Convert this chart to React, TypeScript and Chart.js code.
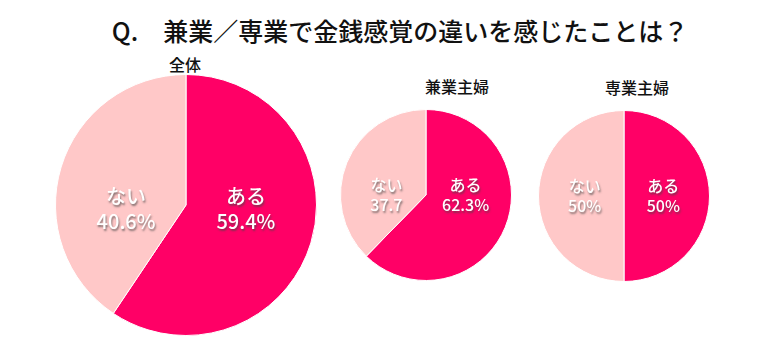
import React, { useEffect, useRef } from "react";
import { Chart, registerables } from "chart.js";

Chart.register(...registerables);

const titleText = "Q.\u3000兼業／専業で金銭感覚の違いを感じたことは？";
const categories = ["ある", "ない"];
const colors = ["#FF0066", "#FFC8C8"];

const pieTitles = ["全体", "兼業主婦", "専業主婦"];
const valuesAll = [59.4, 40.6];
const valuesSide = [62.3, 37.7];
const valuesFull = [50, 50];
const textAll = ["59.4%", "40.6%"];
const textSide = ["62.3%", "37.7"];
const textFull = ["50%", "50%"];

const FONT = "'Noto Sans CJK JP', 'Noto Sans', sans-serif";

type PieProps = {
  values: number[];
  texts: string[];
  fontSize: number;
  lineGap: number;
  labelFactor: number;
  dy: number;
  left: number;
  top: number;
  size: number;
};

const labelPlugin = {
  id: "centerLabels",
  afterDatasetsDraw(chart: any, _args: any, opts: any) {
    const ctx = chart.ctx;
    const meta = chart.getDatasetMeta(0);
    meta.data.forEach((arc: any, i: number) => {
      const { x, y, startAngle, endAngle, outerRadius } = arc.getProps(
        ["x", "y", "startAngle", "endAngle", "outerRadius"],
        true
      );
      const mid = (startAngle + endAngle) / 2;
      const lx = x + Math.cos(mid) * outerRadius * opts.factor;
      const ly = y + opts.dy;
      ctx.save();
      ctx.font = `500 ${opts.fontSize}px ${FONT}`;
      ctx.textAlign = "center";
      ctx.textBaseline = "middle";
      ctx.fillStyle = "#ffffff";
      ctx.shadowColor = "rgba(70,70,70,0.65)";
      ctx.shadowOffsetX = 1;
      ctx.shadowOffsetY = 1.5;
      ctx.shadowBlur = 2;
      ctx.fillText(categories[i], lx, ly - opts.lineGap / 2);
      ctx.fillText(opts.texts[i], lx, ly + opts.lineGap / 2);
      ctx.restore();
    });
  },
};

function Pie(props: PieProps) {
  const ref = useRef<HTMLCanvasElement | null>(null);
  useEffect(() => {
    if (!ref.current) return;
    const chart = new Chart(ref.current, {
      type: "pie",
      data: {
        labels: categories,
        datasets: [
          {
            data: props.values,
            backgroundColor: colors,
            borderColor: "#ffffff",
            borderWidth: 1,
          },
        ],
      },
      options: {
        responsive: false,
        animation: false,
        layout: { padding: 0 },
        plugins: {
          legend: { display: false },
          tooltip: { enabled: false },
          centerLabels: {
            texts: props.texts,
            fontSize: props.fontSize,
            lineGap: props.lineGap,
            factor: props.labelFactor,
            dy: props.dy,
          },
        } as any,
      },
      plugins: [labelPlugin],
    });
    return () => chart.destroy();
  }, []);
  return (
    <canvas
      ref={ref}
      width={props.size}
      height={props.size}
      style={{
        position: "absolute",
        left: props.left,
        top: props.top,
        width: props.size,
        height: props.size,
      }}
    />
  );
}

const subTitleStyle = (cx: number, cy: number): React.CSSProperties => ({
  position: "absolute",
  left: cx - 60,
  top: cy - 12,
  width: 120,
  height: 24,
  lineHeight: "24px",
  textAlign: "center",
  fontFamily: FONT,
  fontSize: 16,
  fontWeight: 500,
  color: "#111",
});

export default function App() {
  return (
    <div
      style={{
        position: "absolute",
        left: 0,
        top: 0,
        width: 768,
        height: 351,
        background: "#ffffff",
        overflow: "hidden",
      }}
    >
      <div
        style={{
          position: "absolute",
          left: 0,
          top: 12,
          width: 800,
          height: 36,
          lineHeight: "36px",
          textAlign: "center",
          fontFamily: FONT,
          fontSize: 25,
          fontWeight: 500,
          color: "#111",
          whiteSpace: "pre",
        }}
      >
        {titleText}
      </div>
      <div style={subTitleStyle(185, 64)}>{pieTitles[0]}</div>
      <div style={subTitleStyle(457, 86)}>{pieTitles[1]}</div>
      <div style={subTitleStyle(637, 87)}>{pieTitles[2]}</div>
      <Pie values={valuesAll} texts={textAll} fontSize={20} lineGap={25} labelFactor={0.48} dy={4} left={55} top={74} size={262} />
      <Pie values={valuesSide} texts={textSide} fontSize={16} lineGap={20} labelFactor={0.5} dy={0} left={340} top={109} size={172} />
      <Pie values={valuesFull} texts={textFull} fontSize={16} lineGap={20} labelFactor={0.46} dy={0} left={538} top={110} size={172} />
    </div>
  );
}
